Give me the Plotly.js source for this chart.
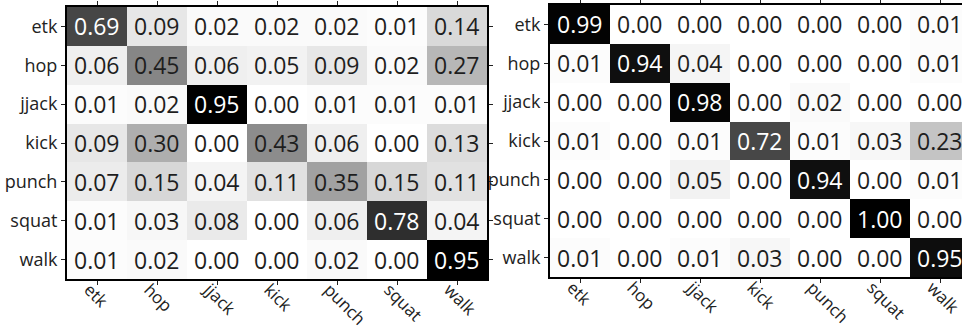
<!DOCTYPE html>
<html>
<head>
<meta charset="utf-8">
<script src="https://cdn.plot.ly/plotly-3.0.1.min.js"></script>
<style>
html, body { margin: 0; padding: 0; overflow: hidden; background: #fff; }
#chart { width: 980px; height: 330px; }
</style>
</head>
<body>
<div id="chart"></div>
<script>
const labels = ['etk', 'hop', 'jjack', 'kick', 'punch', 'squat', 'walk'];

const leftMatrix = [
  [0.69, 0.09, 0.02, 0.02, 0.02, 0.01, 0.14],
  [0.06, 0.45, 0.06, 0.05, 0.09, 0.02, 0.27],
  [0.01, 0.02, 0.95, 0.00, 0.01, 0.01, 0.01],
  [0.09, 0.30, 0.00, 0.43, 0.06, 0.00, 0.13],
  [0.07, 0.15, 0.04, 0.11, 0.35, 0.15, 0.11],
  [0.01, 0.03, 0.08, 0.00, 0.06, 0.78, 0.04],
  [0.01, 0.02, 0.00, 0.00, 0.02, 0.00, 0.95]
];

const rightMatrix = [
  [0.99, 0.00, 0.00, 0.00, 0.00, 0.00, 0.01],
  [0.01, 0.94, 0.04, 0.00, 0.00, 0.00, 0.01],
  [0.00, 0.00, 0.98, 0.00, 0.02, 0.00, 0.00],
  [0.01, 0.00, 0.01, 0.72, 0.01, 0.03, 0.23],
  [0.00, 0.00, 0.05, 0.00, 0.94, 0.00, 0.01],
  [0.00, 0.00, 0.00, 0.00, 0.00, 1.00, 0.00],
  [0.01, 0.00, 0.01, 0.03, 0.00, 0.00, 0.95]
];

const W = 980, H = 330;
const FONT = 'Open Sans, Noto Sans, DejaVu Sans, sans-serif';
const grayScale = [[0, '#ffffff'], [1, '#000000']];

function maxOf(m) { return Math.max.apply(null, m.map(r => Math.max.apply(null, r))); }

function heat(m, xa, ya) {
  return {
    type: 'heatmap', x: labels, y: labels, z: m,
    xaxis: xa, yaxis: ya,
    zmin: 0, zmax: maxOf(m),
    colorscale: grayScale, showscale: false, hoverinfo: 'skip',
    xgap: 0, ygap: 0
  };
}

function anns(m, xref, yref) {
  const mx = maxOf(m);
  const out = [];
  m.forEach((row, i) => row.forEach((v, j) => {
    out.push({
      x: labels[j], y: labels[i], xref: xref, yref: yref,
      text: v.toFixed(2), showarrow: false,
      font: { family: FONT, size: 23, color: (v / mx > 0.6) ? '#ffffff' : '#1e1e1e' }
    });
  }));
  return out;
}

function xAxis(d0, d1, anchor) {
  return {
    domain: [d0 / W, d1 / W], anchor: anchor,
    type: 'category', range: [-0.5, 6.5],
    showline: true, linecolor: '#000', linewidth: 2, mirror: 'allticks',
    ticks: 'outside', ticklen: 4, tickwidth: 1, tickcolor: '#222',
    tickangle: 45, showgrid: false, zeroline: false,
    ticklabelshift: -8, ticklabelstandoff: -12,
    tickfont: { family: FONT, size: 17, color: '#222' }
  };
}
function yAxis(top, bottom, anchor) {
  return {
    domain: [1 - bottom / H, 1 - top / H], anchor: anchor,
    type: 'category', range: [6.5, -0.5],
    showline: true, linecolor: '#000', linewidth: 2, mirror: 'allticks',
    ticks: 'outside', ticklen: 4, tickwidth: 1, tickcolor: '#222',
    showgrid: false, zeroline: false,
    tickfont: { family: FONT, size: 18, color: '#222' }
  };
}

const data = [heat(leftMatrix, 'x', 'y'), heat(rightMatrix, 'x2', 'y2')];

const layout = {
  width: W, height: H,
  margin: { l: 0, r: 0, t: 0, b: 0, pad: 0 },
  paper_bgcolor: '#fff', plot_bgcolor: '#fff',
  showlegend: false,
  xaxis: xAxis(67, 487, 'y'),
  yaxis: yAxis(7, 279, 'x'),
  xaxis2: xAxis(550, 970, 'y2'),
  yaxis2: yAxis(5, 277, 'x2'),
  annotations: anns(leftMatrix, 'x', 'y').concat(anns(rightMatrix, 'x2', 'y2'))
};

Plotly.newPlot('chart', data, layout, { staticPlot: true, displayModeBar: false });
</script>
</body>
</html>
